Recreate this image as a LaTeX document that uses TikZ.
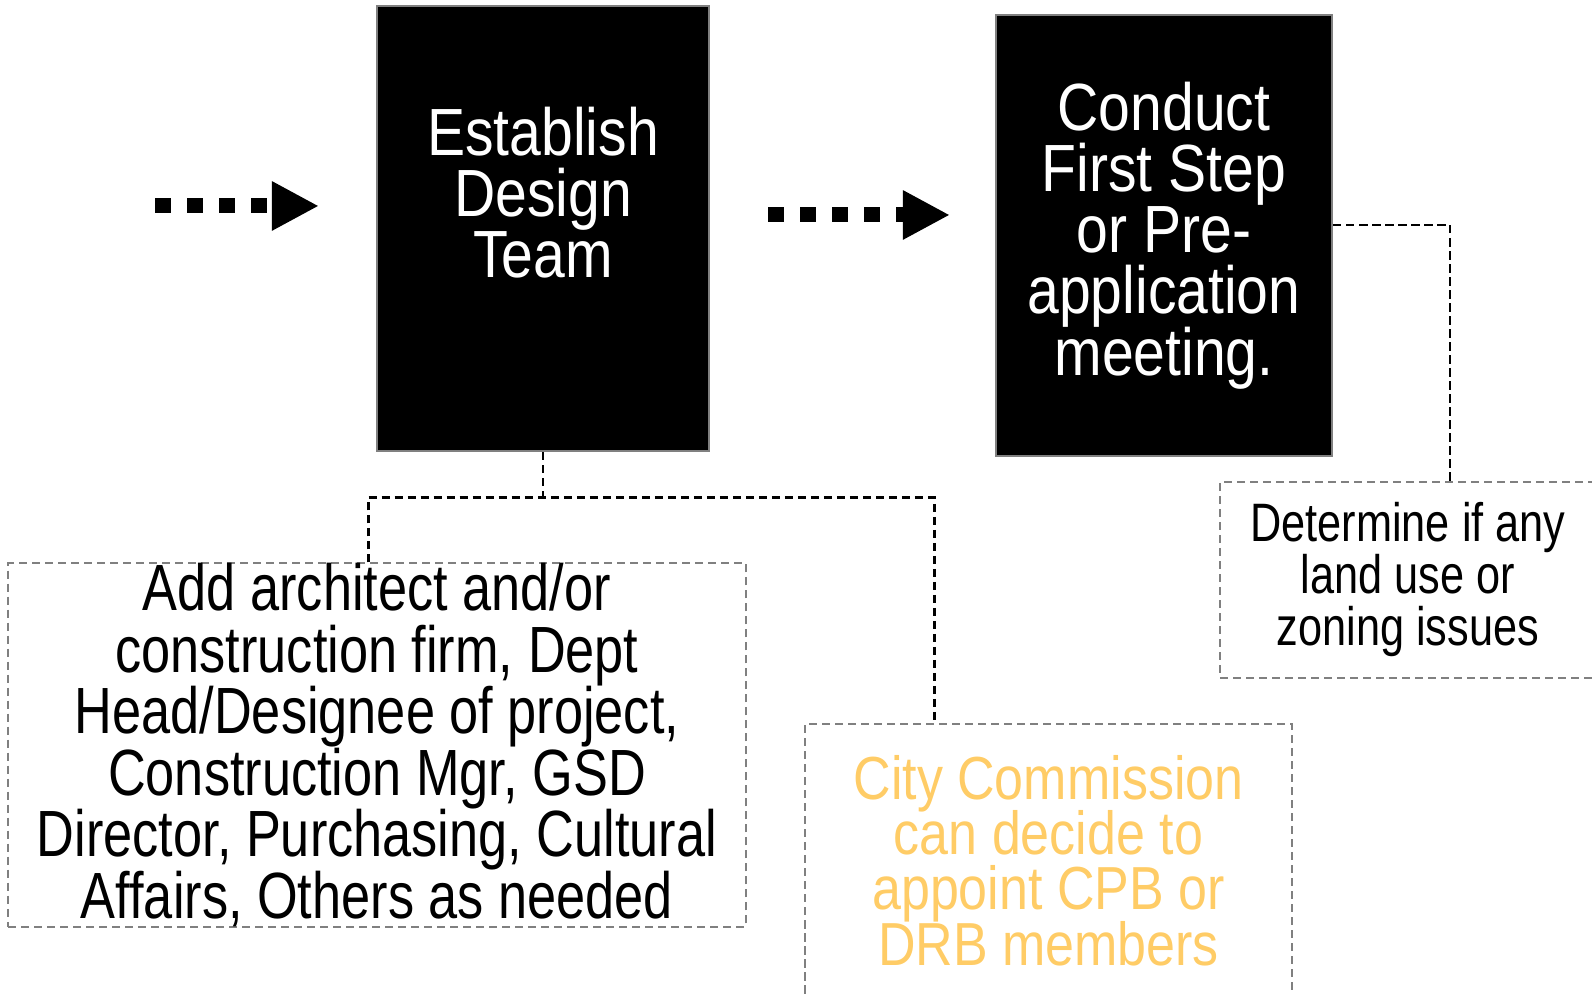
\documentclass[tikz,border=0pt]{standalone}
\usepackage{fontspec}
\setmainfont{Liberation Sans}[FakeStretch=0.8]
\newfontfamily\stepfont{Liberation Sans}[FakeStretch=0.855]
\usetikzlibrary{positioning,arrows.meta}
\definecolor{stepdraw}{RGB}{128,128,128}
\definecolor{notedraw}{RGB}{128,128,128}
\definecolor{citytext}{RGB}{255,204,102}
% tight leading: keep baselines even when descenders meet ascenders
\setlength{\lineskiplimit}{-50pt}
\setlength{\lineskip}{0pt}

\begin{document}
\begin{tikzpicture}[
  steptext/.style={inner sep=0pt, text=white, align=center,
                   font=\stepfont\fontsize{19}{17.4}\selectfont},
  stepbox/.style={steptext, draw=stepdraw, fill=black, line width=0.6pt},
  notebox/.style={draw=notedraw, dash pattern=on 2.3pt off 1.4pt, line width=0.6pt,
                  align=center, inner sep=0pt},
  link/.style={draw=black, line width=0.6pt, dash pattern=on 2.4pt off 1.3pt},
  flow/.style={-{Triangle[length=0.47cm, width=0.46cm]}, line width=0.15cm,
               dash pattern=on 0.16cm off 0.16cm}
]
\useasboundingbox (0,0) rectangle (15.92,9.94);

% The two process steps
\node[stepbox, minimum width=3.32cm, minimum height=4.45cm] (team) at (5.43,7.655) {};
\node[steptext, below=1.01cm of team.north] (teamlabel) {Establish\\Design\\Team};

\node[stepbox, minimum width=3.36cm, minimum height=4.41cm] (conduct) at (11.64,7.585)
  {Conduct\\First Step\\or Pre-\\application\\meeting.};

% Notes hanging off the steps
\node[notebox, minimum width=7.38cm, minimum height=3.60cm,
      font=\fontsize{18.6}{17.5}\selectfont] (members) at (3.77,2.49)
  {Add architect and/or\\construction firm, Dept\\Head/Designee of project,\\
   Construction Mgr, GSD\\Director, Purchasing, Cultural\\Affairs, Others as needed};

\node[notebox, minimum width=4.87cm, minimum height=2.73cm, text=citytext,
      font=\stepfont\fontsize{17.3}{15.75}\selectfont] (city) at (10.485,1.335)
  {City Commission\\can decide to\\appoint CPB or\\DRB members};

\node[notebox, minimum width=3.76cm, minimum height=1.96cm,
      font=\fontsize{15.4}{14.8}\selectfont] (zoning) at (14.08,4.14)
  {Determine if any\\land use or\\zoning issues};

% Dotted flow arrows
\coordinate (lead) at (1.55,7.88);
\coordinate (between) at (7.68,7.79);
\draw[flow] (lead) -- ([xshift=-0.57cm]team.west |- lead);
\draw[flow] (between) -- ([xshift=-0.45cm]conduct.west |- between);

% Dashed connectors to the notes
\coordinate (split) at (5.43,4.965);
\draw[link] (team.south) -- (split);
\draw[link] ([xshift=-0.085cm]members.north) |- ([xshift=-1.14cm]city.north |- split)
  -- ([xshift=-1.14cm]city.north);
\draw[link] ([yshift=0.105cm]conduct.east) -| ([xshift=0.42cm]zoning.north);

\end{tikzpicture}
\end{document}
